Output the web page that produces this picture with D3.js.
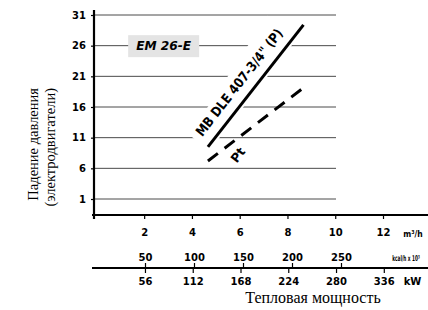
<!DOCTYPE html>
<html><head><meta charset="utf-8">
<script src="https://cdn.jsdelivr.net/npm/d3@7"></script>
<style>
html,body{margin:0;padding:0;background:#fff;}
svg{display:block;}
</style></head>
<body>
<svg id="chart" width="428" height="310"></svg>
<script>
// ---- data ----
const pressureTicks = [1, 6, 11, 16, 21, 26, 31];
const flowTicks = [2, 4, 6, 8, 10, 12];
const kcalTicks = [50, 100, 150, 200, 250];
const kwTicks = [56, 112, 168, 224, 280, 336];
const mbFlow = [4.67, 8.67];
const mbDrop = [9.5, 29.4];
const ptFlow = [4.67, 8.66];
const ptDrop = [7.2, 19.1];
const mbLabel = 'MB DLE 407-3/4" (P)';
const ptLabel = 'Pt';
const modelLabel = 'EM 26-E';
const yTitle = ['Падение давления', '(электродвигатели)'];
const xTitle = 'Тепловая мощность';
const flowUnit = 'm³/h';
const kcalUnit = 'kcal/h x 10³';
const kwUnit = 'kW';

const svg = d3.select('#chart');
const x = d3.scaleLinear().domain([0, 12]).range([96.4, 383]);
const y = d3.scaleLinear().domain([1, 31]).range([199, 15]);
const kcal = d3.scaleLinear().domain([0, 250]).range([96, 341]);
const kw = d3.scaleLinear().domain([0, 336]).range([97.2, 383.8]);

const tickFont = 'DejaVu Sans';
const axX = 94, axY = 215, ax2Y = 268;

// gridlines
svg.append('g').selectAll('line').data(pressureTicks).join('line')
  .attr('x1', axX).attr('x2', 336)
  .attr('y1', d => y(d)).attr('y2', d => y(d))
  .attr('stroke', '#4a4a4a').attr('stroke-width', 1);

// y axis
const gy = svg.append('g').attr('transform', `translate(${axX},0)`)
  .call(d3.axisLeft(y).tickValues(pressureTicks).tickSize(3).tickPadding(5).tickFormat(d3.format('d')));
gy.select('.domain').remove();
gy.selectAll('.tick line').attr('stroke', '#000').attr('stroke-width', 1.2);
gy.selectAll('text').attr('font-family', tickFont).attr('font-weight', 'bold').attr('font-size', 10).attr('fill', '#000');

// x axis (flow)
const gx = svg.append('g').attr('transform', `translate(0,${axY})`)
  .call(d3.axisBottom(x).tickValues(flowTicks).tickSize(4).tickPadding(10).tickFormat(d3.format('d')));
gx.select('.domain').remove();
gx.selectAll('.tick line').attr('stroke', '#000').attr('stroke-width', 1.2);
gx.selectAll('text').attr('font-family', tickFont).attr('font-weight', 'bold').attr('font-size', 10).attr('fill', '#000');

// kcal axis (top of second line)
const gk = svg.append('g').attr('transform', `translate(0,${ax2Y})`)
  .call(d3.axisTop(kcal).tickValues(kcalTicks).tickSize(5).tickPadding(2.5).tickFormat(d3.format('d')));
gk.select('.domain').remove();
gk.selectAll('.tick line').attr('stroke', '#000').attr('stroke-width', 1.2);
gk.selectAll('text').attr('font-family', tickFont).attr('font-weight', 'bold').attr('font-size', 10).attr('fill', '#000');

// kW axis (bottom of second line)
const gw = svg.append('g').attr('transform', `translate(0,${ax2Y})`)
  .call(d3.axisBottom(kw).tickValues(kwTicks).tickSize(5).tickPadding(4.5).tickFormat(d3.format('d')));
gw.select('.domain').remove();
gw.selectAll('.tick line').attr('stroke', '#000').attr('stroke-width', 1.2);
gw.selectAll('text').attr('font-family', tickFont).attr('font-weight', 'bold').attr('font-size', 10).attr('fill', '#000');

// axis lines
svg.append('line').attr('x1', axX).attr('x2', axX).attr('y1', 10).attr('y2', 219)
  .attr('stroke', '#000').attr('stroke-width', 2.2);
svg.append('line').attr('x1', 92).attr('x2', 428).attr('y1', axY).attr('y2', axY)
  .attr('stroke', '#000').attr('stroke-width', 2);
svg.append('line').attr('x1', 92).attr('x2', 428).attr('y1', ax2Y).attr('y2', ax2Y)
  .attr('stroke', '#000').attr('stroke-width', 2);

// unit labels
svg.append('text').attr('transform', `translate(413,${axY + 22}) scale(0.85,1)`)
  .attr('text-anchor', 'middle').attr('font-family', tickFont).attr('font-weight', 'bold')
  .attr('font-size', 9).text(flowUnit);
svg.append('text').attr('transform', `translate(406,${ax2Y - 7.5}) scale(0.53,1)`)
  .attr('text-anchor', 'middle').attr('font-family', tickFont).attr('font-weight', 'bold')
  .attr('font-size', 8).text(kcalUnit);
svg.append('text').attr('x', 412.5).attr('y', ax2Y + 17)
  .attr('text-anchor', 'middle').attr('font-family', tickFont).attr('font-weight', 'bold')
  .attr('font-size', 10).text(kwUnit);

// model label box
const bx = x(1.33), by = y(26);
svg.append('rect').attr('x', bx).attr('y', by - 10.5).attr('width', 71).attr('height', 22)
  .attr('fill', '#e4e4e4');
svg.append('text').attr('x', bx + 35.5).attr('y', by + 4.5).attr('text-anchor', 'middle')
  .attr('font-family', 'DejaVu Sans').attr('font-weight', 'bold').attr('font-style', 'italic')
  .attr('font-size', 12).attr('textLength', 55).attr('lengthAdjust', 'spacingAndGlyphs')
  .text(modelLabel);

// MB line geometry
const mbPts = mbFlow.map((f, i) => [x(f), y(mbDrop[i])]);
const ptPts = ptFlow.map((f, i) => [x(f), y(ptDrop[i])]);
const dx = mbPts[1][0] - mbPts[0][0], dy = mbPts[1][1] - mbPts[0][1];
const ang = Math.atan2(dy, dx) * 180 / Math.PI;

// label with white background
const lg = svg.append('g').attr('transform', `translate(${mbPts[0][0]},${mbPts[0][1]}) rotate(${ang})`);
lg.append('polygon').attr('points', '-2,3.5 140,3.5 140,-34 -2,-22').attr('fill', '#fff');
lg.append('text').attr('x', 4).attr('y', -10.5)
  .attr('font-family', 'DejaVu Sans').attr('font-weight', 'bold').attr('font-size', 13.5)
  .attr('textLength', 132).attr('lengthAdjust', 'spacingAndGlyphs').text(mbLabel);

const line = d3.line();
svg.append('path').attr('d', line(mbPts)).attr('fill', 'none')
  .attr('stroke', '#000').attr('stroke-width', 3);
svg.append('path').attr('d', line(ptPts)).attr('fill', 'none')
  .attr('stroke', '#000').attr('stroke-width', 3).attr('stroke-dasharray', '12.5,8.5');

// Pt label
svg.append('text')
  .attr('transform', `translate(${ptPts[0][0] + 30},${ptPts[0][1] - 6}) rotate(${ang})`)
  .attr('text-anchor', 'middle').attr('dy', '0.35em')
  .attr('font-family', 'DejaVu Sans').attr('font-weight', 'bold').attr('font-size', 12.5)
  .text(ptLabel);

// axis titles
svg.append('text').attr('transform', 'translate(38,88) rotate(-90)').attr('text-anchor', 'end')
  .attr('font-family', 'Liberation Serif').attr('font-size', 14.5).text(yTitle[0]);
svg.append('text').attr('transform', 'translate(55,88) rotate(-90)').attr('text-anchor', 'end')
  .attr('font-family', 'Liberation Serif').attr('font-size', 14.5).text(yTitle[1]);
svg.append('text').attr('x', 313).attr('y', 303).attr('text-anchor', 'middle')
  .attr('font-family', 'Liberation Serif').attr('font-size', 16).text(xTitle);
</script>
</body></html>
